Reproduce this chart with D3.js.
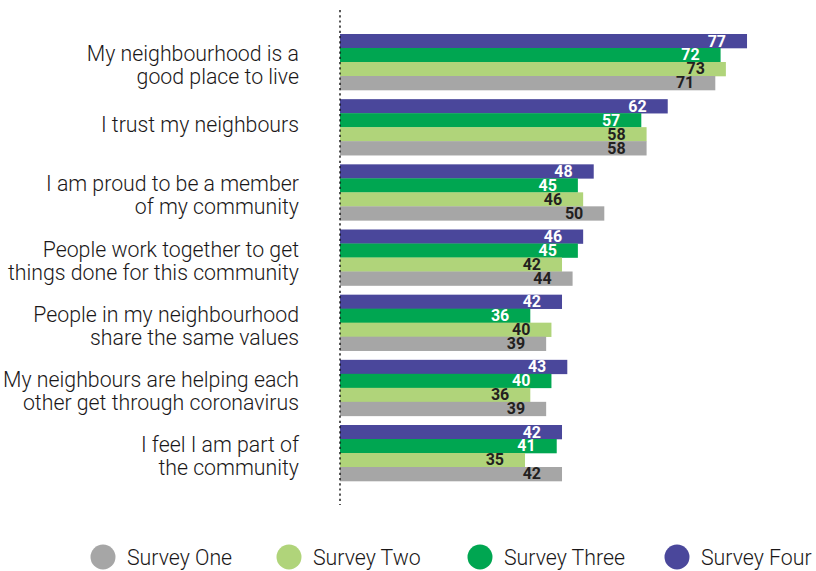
<!DOCTYPE html>
<html>
<head>
<meta charset="utf-8">
<script src="https://cdn.jsdelivr.net/npm/d3@7/dist/d3.min.js"></script>
<style>
  html, body { margin: 0; padding: 0; background: #fff; }
  svg { display: block; }
  text { font-family: Roboto, "Noto Sans", sans-serif; }
</style>
</head>
<body>
<svg id="chart" width="816" height="571"></svg>
<script>
// Survey statements, top to bottom (each entry is the list of wrapped lines)
const categories = [
  ["My neighbourhood is a", "good place to live"],
  ["I trust my neighbours"],
  ["I am proud to be a member", "of my community"],
  ["People work together to get", "things done for this community"],
  ["People in my neighbourhood", "share the same values"],
  ["My neighbours are helping each", "other get through coronavirus"],
  ["I feel I am part of", "the community"]
];

// Percentage agreeing, per survey wave
const surveyOne   = [71, 58, 50, 44, 39, 39, 42];
const surveyTwo   = [73, 58, 46, 42, 40, 36, 35];
const surveyThree = [72, 57, 45, 45, 36, 40, 41];
const surveyFour  = [77, 62, 48, 46, 42, 43, 42];

const seriesNames  = ["Survey One", "Survey Two", "Survey Three", "Survey Four"];
const seriesValues = [surveyOne, surveyTwo, surveyThree, surveyFour];
const seriesColors = ["#a6a6a6", "#b0d47a", "#00a651", "#4a479b"];
const labelColors  = ["#231f20", "#231f20", "#ffffff", "#ffffff"];

// Bars inside each group are stacked newest first
const barOrder = [3, 2, 1, 0];

const svg = d3.select("#chart");
const axisX = 340;

const x = d3.scaleLinear().domain([0, 80]).range([axisX, axisX + 80 * 5.286]);

const keys = categories.map((c, i) => i);
const y = d3.scaleBand().domain(keys).range([34, 481]).paddingInner(0.1407).paddingOuter(0);
const yInner = d3.scaleBand().domain(barOrder).range([0, y.bandwidth()]);

// Bars
const groups = svg.append("g").selectAll("g")
  .data(keys)
  .join("g")
  .attr("transform", i => `translate(0,${y(i)})`);

groups.selectAll("rect")
  .data(i => barOrder.map(s => ({ s, v: seriesValues[s][i] })))
  .join("rect")
  .attr("x", x(0))
  .attr("y", d => yInner(d.s))
  .attr("width", d => x(d.v) - x(0))
  .attr("height", yInner.bandwidth() + 0.3)
  .attr("fill", d => seriesColors[d.s]);

// Value labels inside the bar ends
groups.selectAll("text.val")
  .data(i => barOrder.map(s => ({ s, v: seriesValues[s][i] })))
  .join("text")
  .attr("class", "val")
  .attr("x", d => x(d.v) - 21)
  .attr("y", d => yInner(d.s) + yInner.bandwidth() - 1.5)
  .attr("text-anchor", "end")
  .attr("font-size", 16)
  .attr("font-weight", 700)
  .attr("fill", d => labelColors[d.s])
  .text(d => d.v);

// Category labels to the left of the axis
const lineH = 23;
const catLabels = svg.append("g").selectAll("text")
  .data(keys)
  .join("text")
  .attr("text-anchor", "end")
  .attr("font-size", 21.3)
  .attr("font-weight", 300)
  .attr("fill", "#1a1718")
  .attr("transform", i => {
    const n = categories[i].length;
    const cy = y(i) + y.bandwidth() / 2;
    const base = n === 1 ? cy + 4.5 : cy - 1;
    return `translate(299,${base})`;
  });

catLabels.selectAll("tspan")
  .data(i => categories[i])
  .join("tspan")
  .attr("x", 0)
  .attr("dy", (d, j) => j === 0 ? 0 : lineH)
  .text(d => d);

// Dotted baseline
svg.append("line")
  .attr("x1", axisX).attr("x2", axisX)
  .attr("y1", 10).attr("y2", 505)
  .attr("stroke", "#111")
  .attr("stroke-width", 1.4)
  .attr("stroke-dasharray", "2.2,3");

// Legend
const legendX = [103, 289, 480, 677];
const legend = svg.append("g").selectAll("g")
  .data(seriesNames)
  .join("g")
  .attr("transform", (d, i) => `translate(${legendX[i]},557)`);

legend.append("circle")
  .attr("r", 12.5)
  .attr("fill", (d, i) => seriesColors[i]);

legend.append("text")
  .attr("x", 24)
  .attr("y", 7.5)
  .attr("font-size", 21.3)
  .attr("font-weight", 300)
  .attr("fill", "#1a1718")
  .text(d => d);
</script>
</body>
</html>
